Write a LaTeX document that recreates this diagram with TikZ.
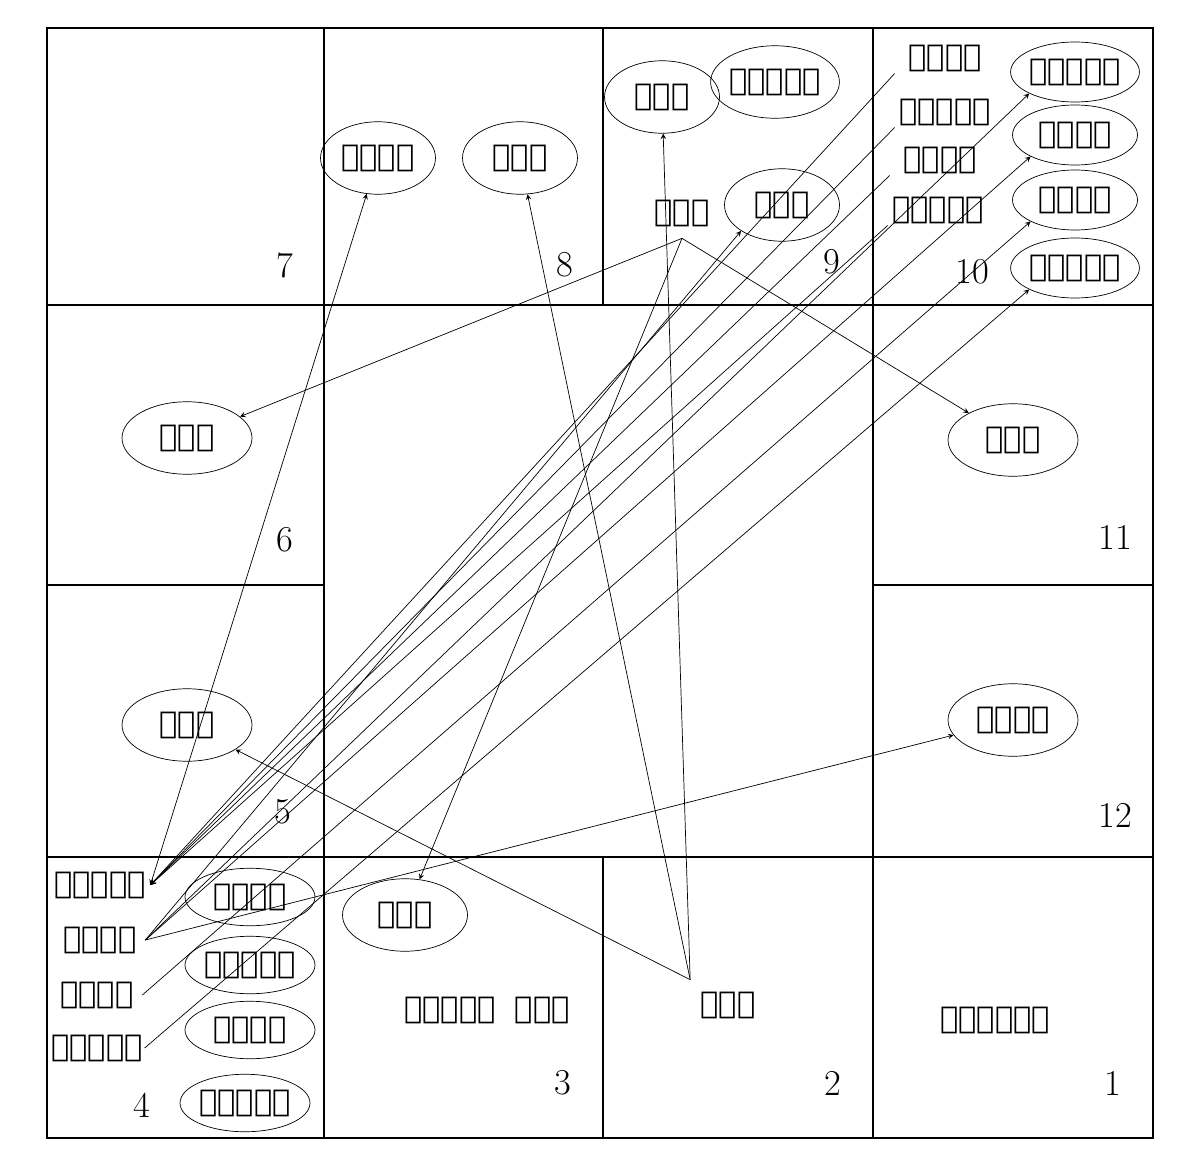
\documentclass[tikz,border=0pt]{standalone}
\usepackage{fontspec}
\newfontfamily\tel{DejaVu Sans}
\usetikzlibrary{shapes.geometric}
\tikzset{
  pl/.style={draw, ellipse, minimum width=2.3cm, minimum height=1.45cm, inner sep=0pt, font=\tel\LARGE},
  tx/.style={inner sep=1pt, font=\tel\LARGE},
  num/.style={font=\huge},
  ar/.style={->, >=stealth, thin}
}
\begin{document}
\begin{tikzpicture}[x=0.02cm, y=-0.02cm]
    \useasboundingbox (0,0) rectangle (1200,1176);
    % grid
    \draw[line width=1.5pt] (47,28) rectangle (1153,1138);
    \draw[line width=1.5pt] (324,28) -- (324,1138) (873,28) -- (873,1138);
    \draw[line width=1.5pt] (603,28) -- (603,305) (603,857) -- (603,1138);
    \draw[line width=1.5pt] (47,305) -- (1153,305) (47,857) -- (1153,857);
    \draw[line width=1.5pt] (47,585) -- (324,585) (873,585) -- (1153,585);

    % house numbers
    \foreach \n/\x/\y in {7/285/265, 8/565/265, 9/832/262, 10/972/272, 6/285/540, 11/1115/537,
        5/283/812, 12/1115/815, 4/142/1105, 3/563/1083, 2/833/1083, 1/1113/1083}
        \node[num] (n\n) at (\x,\y) {\n};

    % house 8
    \node[pl] (guru8) at (378,158) {గురు};
    \node[pl] (kuja8) at (520,158) {కుజ};
    % house 9
    \node[pl] (kuja9) at (662,97) {కుజ};
    \node[pl] (shukra9) at (775,82) {శుక్ర};
    \node[tx, minimum size=1cm] (shani9) at (682,213) {శని};
    \node[pl] (budha9) at (782,205) {బుధ};
    % house 10
    \node[tx, minimum width=2cm] (bhumi10) at (945,58) {భూమి};
    \node[tx, minimum width=2cm] (chandra10) at (945,112) {చంద్ర};
    \node[tx, minimum width=2cm] (ketu10) at (940,160) {కేతు};
    \node[tx, minimum width=2cm] (mitra10) at (938,210) {మిత్ర};
    \node[pl, minimum width=2.5cm, minimum height=1.2cm] (surya10) at (1075,72) {సూర్య};
    \node[pl, minimum width=2.5cm, minimum height=1.2cm] (guru10) at (1075,135) {గురు};
    \node[pl, minimum width=2.5cm, minimum height=1.2cm] (rahu10) at (1075,200) {రాహు};
    \node[pl, minimum width=2.5cm, minimum height=1.2cm] (chitra10) at (1075,268) {చిత్ర};
    % houses 6, 11, 5, 12
    \node[pl, minimum width=2.6cm] (shani6) at (187,438) {శని};
    \node[pl, minimum width=2.6cm] (shani11) at (1013,440) {శని};
    \node[pl, minimum width=2.6cm] (kuja5) at (187,725) {కుజ};
    \node[pl, minimum width=2.6cm] (guru12) at (1013,720) {గురు};
    % house 4
    \node[tx, minimum width=2cm] (surya4) at (100,885) {సూర్య};
    \node[tx, minimum width=1.8cm] (guru4) at (100,940) {గురు};
    \node[tx, minimum width=1.8cm] (rahu4) at (97,995) {రాహు};
    \node[tx, minimum width=1.6cm] (chitra4) at (97,1048) {చిత్ర};
    \node[pl, minimum width=2.6cm, minimum height=1.15cm] (bhumi4) at (250,897) {భూమి};
    \node[pl, minimum width=2.6cm, minimum height=1.15cm] (chandra4) at (250,965) {చంద్ర};
    \node[pl, minimum width=2.6cm, minimum height=1.15cm] (ketu4) at (250,1030) {కేతు};
    \node[pl, minimum width=2.6cm, minimum height=1.15cm] (mitra4) at (245,1103) {మిత్ర};
    % houses 3, 2, 1
    \node[pl, minimum width=2.5cm] (shani3) at (405,915) {శని};
    \node[tx] (shukrabudha3) at (487,1010) {శుక్ర\ \ బుధ};
    \node[tx, minimum width=1.5cm, minimum height=1cm] (kuja2) at (728,1005) {కుజ};
    \node[tx] (lagna1) at (995,1020) {లగ్నము};

    % shani aspects
    \draw[ar] (shani9.south) -- (shani6);
    \draw[ar] (shani9.south) -- (shani11);
    \draw[ar] (shani9.south) -- (shani3);
    % kuja aspects
    \draw[ar] (kuja2.north west) -- (kuja9);
    \draw[ar] (kuja2.north west) -- (kuja8);
    \draw[ar] (kuja2.north west) -- (kuja5);
    % guru aspects
    \draw[ar, <->] (surya4.east) -- (guru8);
    \draw[ar] (guru4.east) -- (guru12);
    % house 10 to house 4
    \foreach \p in {bhumi10, chandra10, ketu10, mitra10}
        \draw[ar] (\p.south west) -- (surya4.east);
    % house 4 to house 10
    \draw[ar] (guru4.east) -- (surya10.south west);
    \draw[ar] (guru4.east) -- (guru10.south west);
    \draw[ar] (guru4.east) -- (budha9.south west);
    \draw[ar] (rahu4.east) -- (rahu10.south west);
    \draw[ar] (chitra4.east) -- (chitra10.south west);
\end{tikzpicture}
\end{document}
